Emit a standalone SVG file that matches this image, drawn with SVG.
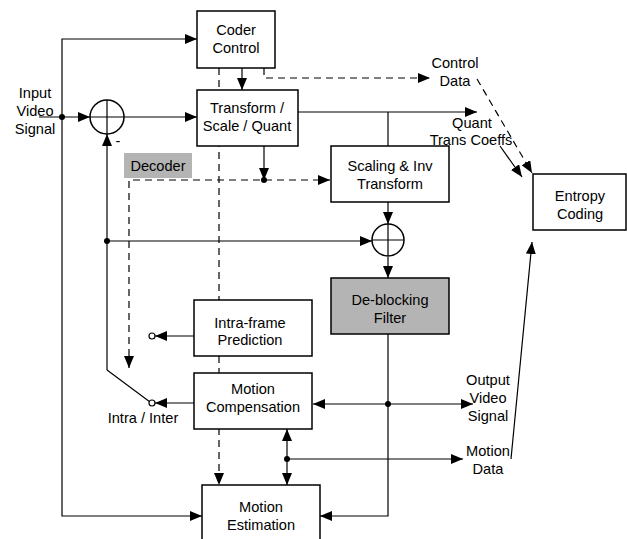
<svg xmlns="http://www.w3.org/2000/svg" width="627" height="539" viewBox="0 0 627 539">
<style>
.box{fill:#fff;stroke:#000;stroke-width:1.5}
.gray{fill:#b4b4b4;stroke:#000;stroke-width:1.5}
.ln{fill:none;stroke:#000;stroke-width:1.2}
.dash{fill:none;stroke:#000;stroke-width:1.2;stroke-dasharray:7 5}
text{font-family:"Liberation Sans",Arial,sans-serif;font-size:14.6px;fill:#000;text-anchor:middle}
</style>
<defs>
<marker id="ah" markerWidth="12" markerHeight="10" refX="12" refY="5" orient="auto" markerUnits="userSpaceOnUse">
<path d="M0,0 L12,5 L0,10 Z" fill="#000"/>
</marker>
<marker id="as" markerWidth="12" markerHeight="10" refX="0" refY="5" orient="auto" markerUnits="userSpaceOnUse">
<path d="M12,0 L0,5 L12,10 Z" fill="#000"/>
</marker>
</defs>
<rect width="627" height="539" fill="#fff"/>
<g id="connectors">
<path class="dash" d="M219,68 V485" marker-end="url(#ah)"/>
<path class="dash" d="M264,68 V78 H430" marker-end="url(#ah)"/>
<path class="dash" d="M477,79 L532,173" marker-end="url(#ah)"/>
<path class="dash" d="M129,368 V180 H330" marker-end="url(#ah)" marker-start="url(#as)"/>
<path class="ln" d="M39,117 H90" marker-end="url(#ah)"/>
<path class="ln" d="M124,117 H197" marker-end="url(#ah)"/>
<path class="ln" d="M62,117 V39 H197" marker-end="url(#ah)"/>
<path class="ln" d="M62,117 V516 H202" marker-end="url(#ah)"/>
<circle cx="62" cy="117" r="3" fill="#000"/>
<path class="ln" d="M242,68 V90" marker-end="url(#ah)"/>
<path class="ln" d="M264,146 V180" marker-end="url(#ah)"/>
<circle cx="264" cy="180" r="3" fill="#000"/>
<path class="ln" d="M298,112 H477" marker-end="url(#ah)"/>
<path class="ln" d="M388,112 V146"/>
<path class="ln" d="M500,146 L522,177" marker-end="url(#ah)"/>
<path class="ln" d="M388,202 V224" marker-end="url(#ah)"/>
<path class="ln" d="M107,241 H372" marker-end="url(#ah)"/>
<circle cx="107" cy="241" r="3" fill="#000"/>
<path class="ln" d="M107,370 V134" marker-end="url(#ah)"/>
<path class="ln" d="M107,370 L150,402"/>
<circle cx="152" cy="403" r="3" fill="#fff" stroke="#000" stroke-width="1.2"/>
<circle cx="152" cy="336" r="3" fill="#fff" stroke="#000" stroke-width="1.2"/>
<path class="ln" d="M194,336 H155" marker-end="url(#ah)"/>
<path class="ln" d="M194,403 H155" marker-end="url(#ah)"/>
<path class="ln" d="M388,257 V278" marker-end="url(#ah)"/>
<path class="ln" d="M388,334 V516 H320" marker-end="url(#ah)"/>
<path class="ln" d="M388,404 H313" marker-end="url(#ah)"/>
<path class="ln" d="M388,404 H473" marker-end="url(#ah)"/>
<circle cx="388" cy="404" r="3" fill="#000"/>
<path class="ln" d="M287,459 V429" marker-end="url(#ah)"/>
<path class="ln" d="M287,459 V485" marker-end="url(#ah)"/>
<path class="ln" d="M287,459 H463" marker-end="url(#ah)"/>
<circle cx="287" cy="459" r="3" fill="#000"/>
<path class="ln" d="M511,459 L532,242" marker-end="url(#ah)"/>
</g>
<g id="sum1">
<circle cx="107" cy="117" r="17" fill="#fff" stroke="#000" stroke-width="1.5"/>
<path class="ln" d="M90,117 H124 M107,100 V134"/>
<text x="118" y="146">-</text>
</g>
<g id="sum2">
<circle cx="388" cy="240" r="16" fill="#fff" stroke="#000" stroke-width="1.5"/>
<path class="ln" d="M372,240 H404 M388,224 V256"/>
</g>
<g id="coder-control">
<rect class="box" x="197" y="11" width="78" height="57"/>
<text x="236" y="35">Coder</text>
<text x="236" y="53">Control</text>
</g>
<g id="transform">
<rect class="box" x="197" y="90" width="101" height="56"/>
<text x="247" y="113">Transform /</text>
<text x="247" y="131">Scale / Quant</text>
</g>
<g id="decoder">
<rect x="124" y="153" width="68" height="25" fill="#b4b4b4"/>
<text x="158" y="171">Decoder</text>
</g>
<g id="scaling">
<rect class="box" x="331" y="146" width="118" height="56"/>
<text x="390" y="171">Scaling &amp; Inv</text>
<text x="390" y="189">Transform</text>
</g>
<g id="entropy">
<rect class="box" x="533" y="174" width="93" height="56"/>
<text x="580" y="201">Entropy</text>
<text x="580" y="219">Coding</text>
</g>
<g id="deblocking">
<rect class="gray" x="331" y="278" width="118" height="56"/>
<text x="390" y="305">De-blocking</text>
<text x="390" y="323">Filter</text>
</g>
<g id="intra">
<rect class="box" x="194" y="300" width="118" height="56"/>
<text x="250" y="328">Intra-frame</text>
<text x="250" y="345">Prediction</text>
</g>
<g id="mc">
<rect class="box" x="194" y="373" width="118" height="56"/>
<text x="253" y="394">Motion</text>
<text x="253" y="412">Compensation</text>
</g>
<g id="me">
<rect class="box" x="202" y="485" width="118" height="60"/>
<text x="261" y="512">Motion</text>
<text x="261" y="530">Estimation</text>
</g>
<g id="labels">
<text x="35" y="98">Input</text>
<text x="35" y="116">Video</text>
<text x="35" y="134">Signal</text>
<text x="455" y="68">Control</text>
<text x="455" y="86">Data</text>
<text x="472" y="128">Quant</text>
<text x="471" y="145">Trans Coeffs</text>
<text x="143" y="423">Intra / Inter</text>
<text x="488" y="385">Output</text>
<text x="488" y="403">Video</text>
<text x="488" y="421">Signal</text>
<text x="488" y="456">Motion</text>
<text x="488" y="474">Data</text>
</g>
</svg>
